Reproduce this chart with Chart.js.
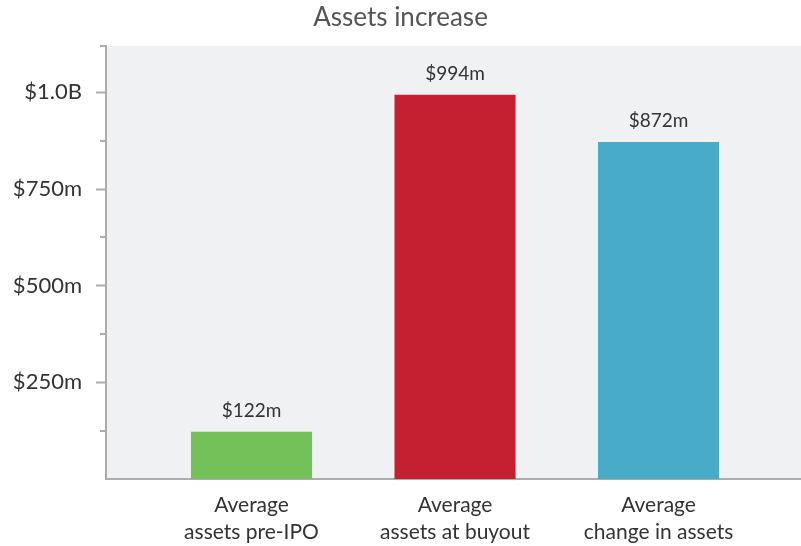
<!DOCTYPE html>
<html><head><meta charset="utf-8">
<script src="https://cdn.jsdelivr.net/npm/chart.js@4"></script>
<style>html,body{margin:0;padding:0;background:#fff}#wrap{width:801px;height:546px}</style>
</head><body><div id="wrap"><canvas id="c" width="801" height="546"></canvas></div>
<script>
const titleText = "Assets increase";
const categories = [["Average","assets pre-IPO"],["Average","assets at buyout"],["Average","change in assets"]];
const categoryPositions = [1, 2, 3];
const values = [122, 994, 872];
const valueLabels = ["$122m", "$994m", "$872m"];
const barColors = ["#75c159", "#c52032", "#48acc9"];
const yMajorTicks = [250, 500, 750, 1000];
const yTickLabels = ["$250m", "$500m", "$750m", "$1.0B"];
const yMinorTicks = [125, 375, 625, 875, 1120];
const yMax = 1120;

const FONT = "Lato, 'Open Sans', sans-serif";
const AXIS = "#acacac";

const bgPlugin = {
  id: 'bg',
  beforeDraw(chart) {
    const a = chart.chartArea, ctx = chart.ctx;
    ctx.save(); ctx.fillStyle = '#f0f1f3';
    ctx.fillRect(a.left, a.top, a.right - a.left, a.bottom - a.top);
    ctx.restore();
  },
  afterDraw(chart) {
    const ctx = chart.ctx, y = chart.scales.y;
    ctx.save(); ctx.strokeStyle = AXIS; ctx.lineWidth = 2;
    yMinorTicks.forEach(v => {
      const py = Math.round(y.getPixelForValue(v));
      ctx.beginPath(); ctx.moveTo(y.right - 6, py); ctx.lineTo(y.right, py); ctx.stroke();
    });
    ctx.restore();
  },
  afterDatasetsDraw(chart) {
    const ctx = chart.ctx;
    const meta = chart.getDatasetMeta(0);
    ctx.save();
    ctx.font = "19px " + FONT; ctx.fillStyle = '#333'; ctx.textAlign = 'center'; ctx.textBaseline = 'middle';
    meta.data.forEach((bar, i) => { ctx.fillText(valueLabels[i], bar.x, bar.y - 21); });
    ctx.restore();
  }
};

new Chart(document.getElementById('c'), {
  type: 'bar',
  data: {
    datasets: [{
      data: categoryPositions.map((x, i) => ({x: x, y: values[i]})),
      backgroundColor: barColors,
      borderWidth: 0,
      barPercentage: 0.595,
      categoryPercentage: 1
    }]
  },
  options: {
    responsive: false,
    devicePixelRatio: 1,
    animation: false,
    layout: { padding: { left: 0, right: 0, top: 0, bottom: 0 } },
    plugins: {
      legend: { display: false },
      tooltip: { enabled: false },
      title: {
        display: true, text: titleText, color: '#555',
        font: { family: FONT, size: 26, weight: 'normal', lineHeight: 1.2 },
        padding: { top: 2.4, bottom: 12.4 }
      }
    },
    scales: {
      x: {
        type: 'linear', min: 0.285, max: 3.70, offset: false,
        afterBuildTicks(scale) { scale.ticks = categoryPositions.map(v => ({value: v})); },
        afterFit(scale) { scale.height = 67; },
        ticks: {
          callback(v) { const i = categoryPositions.indexOf(v); return i >= 0 ? categories[i] : ''; },
          color: '#333', font: { family: FONT, size: 21, lineHeight: 1.29 }, padding: 12.5,
          maxRotation: 0, autoSkip: false
        },
        grid: { display: true, drawOnChartArea: false, drawTicks: false },
        border: { display: true, color: AXIS, width: 2 }
      },
      y: {
        min: 0, max: yMax,
        afterBuildTicks(scale) { scale.ticks = yMajorTicks.map(v => ({value: v})); },
        afterFit(scale) { scale.width = 106; },
        ticks: {
          callback(v) { const i = yMajorTicks.indexOf(v); return i >= 0 ? yTickLabels[i] : ''; },
          color: '#333', font: { family: FONT, size: 22 }, padding: 14, autoSkip: false
        },
        grid: { drawOnChartArea: false, drawTicks: true, tickLength: 10, tickColor: AXIS, tickWidth: 2 },
        border: { display: true, color: AXIS, width: 2 }
      }
    }
  },
  plugins: [bgPlugin]
});
</script></body></html>
